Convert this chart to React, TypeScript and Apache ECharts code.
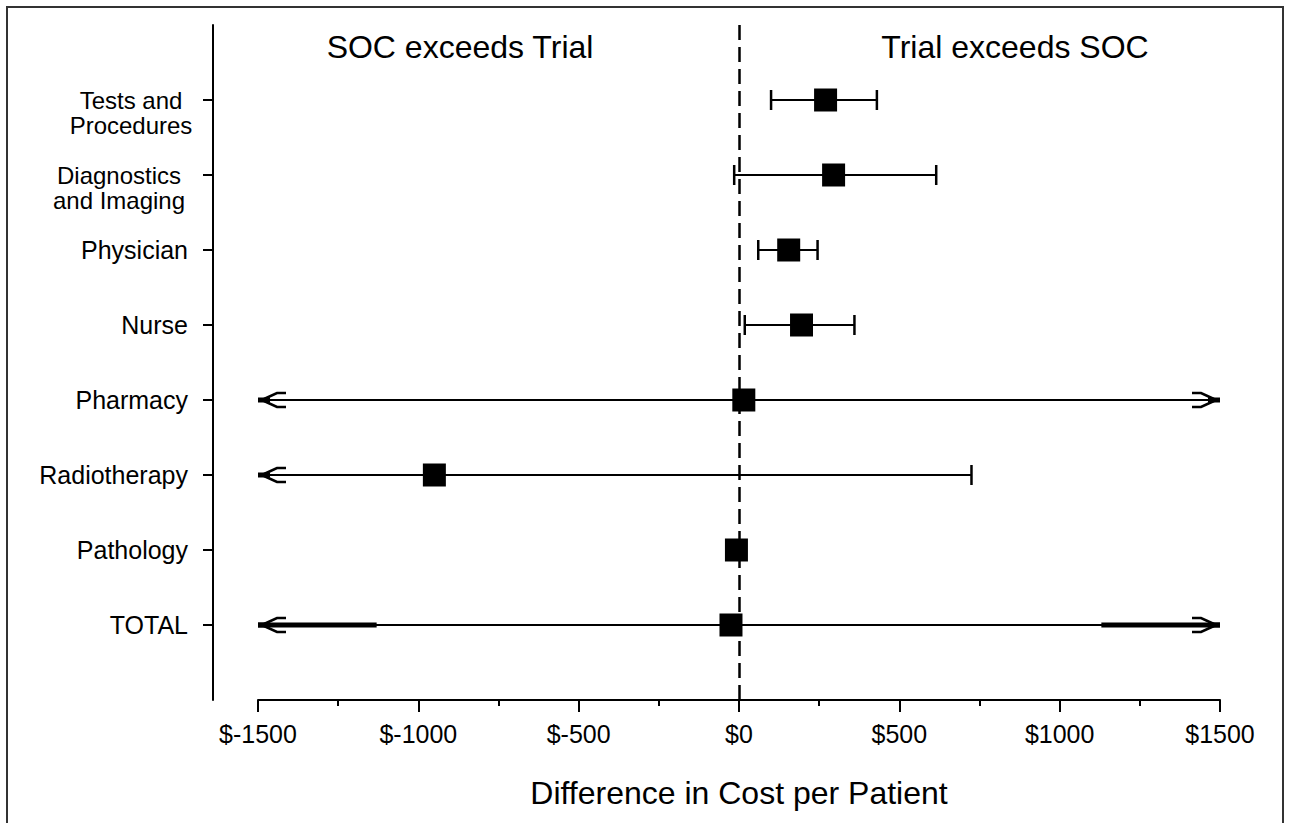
import React, { useEffect, useRef } from "react";
import * as echarts from "echarts";

// Cost categories, listed from the top row to the bottom row
const categories = [
  "Tests and\nProcedures",
  "Diagnostics\nand Imaging",
  "Physician",
  "Nurse",
  "Pharmacy",
  "Radiotherapy",
  "Pathology",
  "TOTAL",
];

// Mean difference in cost per patient (Trial minus SOC), in dollars
const meanDiff = [270, 295, 155, 195, 15, -950, -8, -25];

// Confidence limits; where an interval runs past the axis it is cut at the axis limit
const ciLower = [100, -15, 60, 18, -1500, -1500, -20, -1500];
const ciUpper = [430, 615, 245, 360, 1500, 725, 5, 1500];
const lowerBeyondAxis = [false, false, false, false, true, true, false, true];
const upperBeyondAxis = [false, false, false, false, true, false, false, true];

// Heavier stretches drawn on the TOTAL interval near both axis limits
const totalBoldSegments = [
  [-1500, -1130],
  [1130, 1500],
];

const xTicks = { min: -1500, max: 1500, interval: 500 };
const sideNotes = ["SOC exceeds Trial", "Trial exceeds SOC"];
const xTitle = "Difference in Cost per Patient";

const FONT = '"Liberation Sans", Arial, Helvetica, sans-serif';

// Category axis runs bottom-to-top, padded with an empty slot at each end
const axisCategories = ["", ...categories.slice().reverse(), ""];
const rowIndex = (i: number) => categories.length - i;

function buildOption() {
  const errorData = categories.map((_, i) => [
    rowIndex(i),
    ciLower[i],
    ciUpper[i],
    lowerBeyondAxis[i] ? 1 : 0,
    upperBeyondAxis[i] ? 1 : 0,
  ]);
  const totalRow = rowIndex(categories.indexOf("TOTAL"));
  const boldData = totalBoldSegments.map((s) => [totalRow, s[0], s[1]]);
  const pointData = categories.map((_, i) => [meanDiff[i], rowIndex(i)]);

  const ink = "#000";
  const labelStyle = { fontFamily: FONT, fontSize: 24, lineHeight: 25, color: ink };

  return {
    animation: false,
    backgroundColor: "#fff",
    grid: { left: 258, right: 70, top: 25, bottom: 123, containLabel: false },
    xAxis: {
      type: "value",
      min: xTicks.min,
      max: xTicks.max,
      interval: xTicks.interval,
      axisLine: { show: true, onZero: false, lineStyle: { color: ink, width: 2 } },
      axisTick: { show: true, length: 12, lineStyle: { color: ink, width: 2 } },
      minorTick: { show: true, splitNumber: 2, length: 6, lineStyle: { color: ink, width: 2 } },
      splitLine: { show: false },
      axisLabel: {
        margin: 21,
        fontFamily: FONT,
        fontSize: 25,
        color: ink,
        formatter: (v: number) => "$" + v,
      },
      name: xTitle,
      nameLocation: "middle",
      nameGap: 77,
      nameTextStyle: { fontFamily: FONT, fontSize: 32, color: ink },
    },
    yAxis: {
      type: "category",
      data: axisCategories,
      boundaryGap: false,
      offset: 45,
      axisLine: { show: true, onZero: false, lineStyle: { color: ink, width: 2 } },
      axisTick: {
        show: true,
        length: 10,
        interval: (_i: number, v: string) => v !== "",
        lineStyle: { color: ink, width: 2 },
      },
      splitLine: { show: false },
      axisLabel: {
        interval: 0,
        margin: 25,
        align: "right",
        ...labelStyle,
        formatter: (v: string) => {
          if (!v) return "";
          if (v.indexOf("\n") >= 0) {
            // a blank first line keeps the first text line level with the tick
            const key = v.startsWith("Tests") ? "tp" : "di";
            return `{${key}| }\n` + v.split("\n").map((l) => `{${key}|${l}}`).join("\n");
          }
          return `{one|${v}}`;
        },
        rich: {
          one: { ...labelStyle, fontSize: 25 },
          tp: { ...labelStyle, width: 114, align: "center" },
          di: { ...labelStyle, width: 138, align: "center" },
        },
      },
    },
    graphic: [
      {
        type: "rect",
        shape: { x: 7, y: 7, width: 1276, height: 840 },
        style: { fill: "none", stroke: "#333", lineWidth: 2 },
        silent: true,
      },
      {
        type: "text",
        x: 460,
        y: 47,
        style: { text: sideNotes[0], align: "center", verticalAlign: "middle", fontFamily: FONT, fontSize: 32, fill: ink },
      },
      {
        type: "text",
        x: 1015,
        y: 47,
        style: { text: sideNotes[1], align: "center", verticalAlign: "middle", fontFamily: FONT, fontSize: 32, fill: ink },
      },
    ],
    series: [
      {
        // zero reference line
        type: "line",
        data: [],
        z: 1,
        markLine: {
          silent: true,
          symbol: ["none", "none"],
          label: { show: false },
          lineStyle: { color: ink, width: 2.5, type: [15, 7] },
          data: [{ xAxis: 0 }],
        },
      },
      {
        // confidence intervals with caps or arrows
        type: "custom",
        z: 2,
        data: errorData,
        encode: { x: [1, 2], y: 0 },
        renderItem: (_p: any, api: any) => {
          const cat = api.value(0);
          const a = api.coord([api.value(1), cat]);
          const b = api.coord([api.value(2), cat]);
          const y = a[1];
          const stroke = { stroke: ink, lineWidth: 2 };
          const children: any[] = [
            { type: "line", shape: { x1: a[0], y1: y, x2: b[0], y2: y }, style: stroke },
          ];
          const arrow = (tip: number, dir: number) => [
            { type: "line", shape: { x1: tip, y1: y, x2: tip + dir * 12, y2: y }, style: { stroke: ink, lineWidth: 5 } },
            {
              type: "polyline",
              shape: { points: [[tip + dir * 28, y - 7], [tip + dir * 19, y - 7], [tip + dir * 6, y - 1]] },
              style: { stroke: ink, lineWidth: 2.5, fill: "none" },
            },
            {
              type: "polyline",
              shape: { points: [[tip + dir * 28, y + 7], [tip + dir * 19, y + 7], [tip + dir * 6, y + 1]] },
              style: { stroke: ink, lineWidth: 2.5, fill: "none" },
            },
          ];
          const cap = (x: number) => ({
            type: "line",
            shape: { x1: x, y1: y - 10, x2: x, y2: y + 10 },
            style: { stroke: ink, lineWidth: 2.5 },
          });
          if (api.value(3) === 1) children.push(...arrow(a[0], 1));
          else children.push(cap(a[0]));
          if (api.value(4) === 1) children.push(...arrow(b[0], -1));
          else children.push(cap(b[0]));
          return { type: "group", children };
        },
      },
      {
        // heavier stretches on the TOTAL interval
        type: "custom",
        z: 2,
        data: boldData,
        encode: { x: [1, 2], y: 0 },
        renderItem: (_p: any, api: any) => {
          const cat = api.value(0);
          const a = api.coord([api.value(1), cat]);
          const b = api.coord([api.value(2), cat]);
          return {
            type: "line",
            shape: { x1: a[0], y1: a[1], x2: b[0], y2: b[1] },
            style: { stroke: ink, lineWidth: 5 },
          };
        },
      },
      {
        // mean difference markers
        type: "scatter",
        z: 3,
        symbol: "rect",
        symbolSize: 23,
        itemStyle: { color: ink, opacity: 1 },
        data: pointData,
      },
    ],
  };
}

export default function App() {
  const ref = useRef<HTMLDivElement>(null);
  useEffect(() => {
    if (!ref.current) return;
    const chart = echarts.init(ref.current, null, { renderer: "svg" });
    chart.setOption(buildOption() as any);
    return () => chart.dispose();
  }, []);
  return (
    <div
      ref={ref}
      style={{ position: "fixed", left: 0, top: 0, width: 1290, height: 823, background: "#fff" }}
    />
  );
}
